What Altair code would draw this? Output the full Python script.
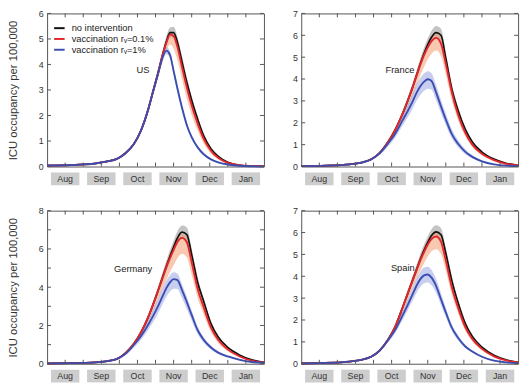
import altair as alt
import pandas as pd

# Days counted from 1 August; curves sampled on this grid
DAYS = [0, 20, 40, 50, 58, 65, 72, 78, 84, 88, 92, 96, 99, 102, 105, 108,
        112, 116, 120, 125, 130, 136, 142, 150, 160, 170, 180]

SERIES = ["no intervention", "vaccination rᵥ=0.1%", "vaccination rᵥ=1%"]
LINE_COLORS = ["#111111", "#e3262b", "#3b4db0"]
BAND_COLORS = ["#9c9c9c", "#f29a70", "#8f9de2"]
BAND_OPACITY = [0.6, 0.55, 0.5]

MONTHS = ["Aug", "Sep", "Oct", "Nov", "Dec", "Jan"]
MONTH_MID = [15, 45, 75, 105, 135, 165]
X_TICKS = [15, 30, 45, 60, 75, 90, 105, 120, 135, 150, 165]

# ---- US ----
US_NONE = [0.04, 0.06, 0.12, 0.2, 0.3, 0.52, 0.88, 1.42, 2.25, 2.95, 3.65, 4.4, 4.9, 5.25, 5.25, 4.9,
           4.1, 3.3, 2.6, 1.85, 1.2, 0.7, 0.4, 0.17, 0.05, 0.02, 0.01]
US_NONE_HI = [0.04, 0.06, 0.13, 0.21, 0.32, 0.55, 0.93, 1.5, 2.36, 3.08, 3.8, 4.58, 5.1, 5.45, 5.48, 5.12,
              4.32, 3.48, 2.76, 1.97, 1.29, 0.76, 0.44, 0.19, 0.06, 0.02, 0.01]
US_NONE_LO = [0.04, 0.06, 0.11, 0.19, 0.28, 0.49, 0.83, 1.35, 2.14, 2.82, 3.5, 4.22, 4.7, 5.05, 5.04, 4.68,
              3.9, 3.12, 2.45, 1.74, 1.12, 0.65, 0.37, 0.15, 0.04, 0.02, 0.01]
US_LOW = [0.04, 0.06, 0.12, 0.2, 0.3, 0.52, 0.88, 1.42, 2.25, 2.95, 3.65, 4.4, 4.85, 5.17, 5.12, 4.72,
          3.9, 3.1, 2.4, 1.68, 1.08, 0.62, 0.34, 0.14, 0.05, 0.02, 0.01]
US_LOW_HI = [0.04, 0.06, 0.12, 0.2, 0.31, 0.54, 0.9, 1.46, 2.3, 3.02, 3.72, 4.48, 4.95, 5.25, 5.2, 4.82,
             4.0, 3.2, 2.48, 1.74, 1.13, 0.65, 0.36, 0.15, 0.05, 0.02, 0.01]
US_LOW_LO = [0.04, 0.06, 0.11, 0.19, 0.28, 0.5, 0.84, 1.36, 2.15, 2.8, 3.45, 4.12, 4.55, 4.78, 4.62, 4.2,
             3.4, 2.65, 2.02, 1.4, 0.9, 0.5, 0.28, 0.12, 0.04, 0.02, 0.01]
US_HIGH = [0.04, 0.06, 0.12, 0.2, 0.3, 0.52, 0.88, 1.42, 2.25, 2.95, 3.62, 4.3, 4.54, 4.38, 3.75, 3.1,
           2.3, 1.62, 1.15, 0.75, 0.48, 0.28, 0.16, 0.08, 0.03, 0.01, 0.0]
US_HIGH_HI = [0.04, 0.06, 0.13, 0.21, 0.32, 0.54, 0.92, 1.48, 2.33, 3.06, 3.75, 4.45, 4.68, 4.52, 3.9, 3.24,
              2.42, 1.72, 1.23, 0.81, 0.53, 0.31, 0.18, 0.09, 0.03, 0.01, 0.0]
US_HIGH_LO = [0.04, 0.06, 0.11, 0.19, 0.28, 0.5, 0.84, 1.36, 2.17, 2.84, 3.49, 4.15, 4.4, 4.24, 3.6, 2.96,
              2.18, 1.52, 1.07, 0.69, 0.43, 0.25, 0.14, 0.07, 0.03, 0.01, 0.0]

# ---- France ----
FR_NONE = [0.02, 0.04, 0.1, 0.18, 0.33, 0.62, 1.12, 1.68, 2.4, 2.95, 3.55, 4.22, 4.72, 5.18, 5.58, 5.9,
           6.12, 6.0, 4.95, 3.55, 2.6, 1.72, 1.12, 0.66, 0.34, 0.15, 0.06]
FR_NONE_HI = [0.02, 0.04, 0.11, 0.19, 0.35, 0.66, 1.18, 1.77, 2.52, 3.1, 3.73, 4.43, 4.96, 5.44, 5.86, 6.2,
              6.43, 6.3, 5.2, 3.75, 2.75, 1.82, 1.19, 0.7, 0.36, 0.16, 0.06]
FR_NONE_LO = [0.02, 0.04, 0.1, 0.17, 0.32, 0.6, 1.08, 1.61, 2.3, 2.83, 3.41, 4.05, 4.53, 4.97, 5.36, 5.66,
              5.88, 5.76, 4.75, 3.4, 2.49, 1.65, 1.07, 0.63, 0.33, 0.14, 0.06]
FR_LOW = [0.02, 0.04, 0.1, 0.18, 0.33, 0.62, 1.12, 1.68, 2.4, 2.95, 3.55, 4.2, 4.68, 5.1, 5.45, 5.72,
          5.88, 5.62, 4.7, 3.4, 2.4, 1.56, 1.0, 0.58, 0.29, 0.12, 0.05]
FR_LOW_HI = [0.02, 0.04, 0.11, 0.19, 0.35, 0.66, 1.18, 1.76, 2.52, 3.1, 3.72, 4.4, 4.9, 5.32, 5.68, 5.95,
             6.1, 5.85, 4.9, 3.55, 2.52, 1.64, 1.05, 0.61, 0.31, 0.13, 0.05]
FR_LOW_LO = [0.02, 0.04, 0.09, 0.16, 0.3, 0.56, 1.0, 1.5, 2.14, 2.62, 3.15, 3.74, 4.18, 4.56, 4.9, 5.15,
             5.3, 5.05, 4.2, 3.02, 2.14, 1.39, 0.89, 0.51, 0.25, 0.1, 0.04]
FR_HIGH = [0.02, 0.04, 0.1, 0.18, 0.32, 0.6, 1.05, 1.5, 2.1, 2.5, 2.92, 3.4, 3.68, 3.88, 3.99, 3.92,
           3.38, 2.75, 2.15, 1.48, 1.05, 0.68, 0.44, 0.24, 0.1, 0.04, 0.02]
FR_HIGH_HI = [0.02, 0.04, 0.11, 0.2, 0.36, 0.68, 1.18, 1.7, 2.36, 2.8, 3.27, 3.78, 4.06, 4.26, 4.36, 4.28,
              3.72, 3.05, 2.42, 1.7, 1.22, 0.8, 0.52, 0.29, 0.12, 0.05, 0.02]
FR_HIGH_LO = [0.02, 0.04, 0.09, 0.16, 0.28, 0.52, 0.92, 1.32, 1.86, 2.22, 2.6, 3.03, 3.28, 3.46, 3.56, 3.52,
              3.02, 2.44, 1.9, 1.28, 0.9, 0.57, 0.37, 0.2, 0.08, 0.03, 0.01]

# ---- Germany ----
DE_NONE = [0.02, 0.03, 0.07, 0.14, 0.25, 0.55, 1.05, 1.65, 2.45, 3.1, 3.8, 4.55, 5.1, 5.62, 6.1, 6.55,
           6.88, 6.75, 5.7, 4.25, 3.25, 2.1, 1.4, 0.85, 0.45, 0.2, 0.08]
DE_NONE_HI = [0.02, 0.03, 0.08, 0.15, 0.27, 0.58, 1.1, 1.74, 2.58, 3.27, 4.0, 4.8, 5.38, 5.93, 6.43, 6.9,
              7.22, 7.12, 6.02, 4.5, 3.43, 2.22, 1.48, 0.9, 0.48, 0.21, 0.08]
DE_NONE_LO = [0.02, 0.03, 0.07, 0.13, 0.24, 0.52, 1.0, 1.57, 2.33, 2.95, 3.6, 4.32, 4.85, 5.35, 5.8, 6.22,
              6.55, 6.4, 5.4, 4.02, 3.08, 1.99, 1.33, 0.8, 0.42, 0.19, 0.07]
DE_LOW = [0.02, 0.03, 0.07, 0.14, 0.25, 0.55, 1.05, 1.65, 2.45, 3.1, 3.8, 4.52, 5.05, 5.52, 5.95, 6.35,
          6.58, 6.35, 5.3, 3.9, 2.95, 1.9, 1.25, 0.75, 0.38, 0.16, 0.07]
DE_LOW_HI = [0.02, 0.03, 0.08, 0.15, 0.27, 0.58, 1.1, 1.73, 2.57, 3.25, 3.98, 4.74, 5.28, 5.76, 6.2, 6.58,
             6.8, 6.58, 5.52, 4.08, 3.08, 1.99, 1.31, 0.79, 0.4, 0.17, 0.07]
DE_LOW_LO = [0.02, 0.03, 0.06, 0.12, 0.22, 0.48, 0.92, 1.45, 2.15, 2.72, 3.32, 3.95, 4.4, 4.8, 5.15, 5.5,
             5.75, 5.55, 4.65, 3.42, 2.58, 1.66, 1.09, 0.65, 0.33, 0.14, 0.06]
DE_HIGH = [0.02, 0.03, 0.07, 0.14, 0.25, 0.52, 0.98, 1.45, 2.05, 2.5, 3.0, 3.55, 3.95, 4.25, 4.42, 4.38,
           3.85, 3.22, 2.55, 1.75, 1.25, 0.85, 0.58, 0.38, 0.2, 0.09, 0.04]
DE_HIGH_HI = [0.02, 0.03, 0.08, 0.16, 0.29, 0.6, 1.12, 1.65, 2.32, 2.82, 3.37, 3.96, 4.36, 4.63, 4.78, 4.72,
              4.16, 3.5, 2.79, 1.93, 1.39, 0.95, 0.65, 0.43, 0.23, 0.1, 0.05]
DE_HIGH_LO = [0.02, 0.03, 0.06, 0.12, 0.21, 0.44, 0.84, 1.25, 1.78, 2.18, 2.63, 3.14, 3.5, 3.77, 3.92, 3.9,
              3.42, 2.86, 2.26, 1.55, 1.1, 0.75, 0.51, 0.33, 0.17, 0.08, 0.03]

# ---- Spain ----
ES_NONE = [0.02, 0.04, 0.1, 0.18, 0.32, 0.6, 1.1, 1.7, 2.55, 3.15, 3.75, 4.35, 4.8, 5.2, 5.55, 5.85,
           6.03, 5.9, 5.05, 3.8, 2.82, 1.86, 1.25, 0.76, 0.39, 0.18, 0.07]
ES_NONE_HI = [0.02, 0.04, 0.11, 0.19, 0.34, 0.63, 1.16, 1.79, 2.68, 3.3, 3.93, 4.56, 5.04, 5.46, 5.83, 6.14,
              6.33, 6.2, 5.3, 3.99, 2.97, 1.96, 1.32, 0.8, 0.41, 0.19, 0.07]
ES_NONE_LO = [0.02, 0.04, 0.1, 0.17, 0.31, 0.58, 1.06, 1.63, 2.45, 3.02, 3.6, 4.18, 4.6, 4.99, 5.33, 5.62,
              5.79, 5.66, 4.85, 3.65, 2.7, 1.78, 1.2, 0.73, 0.37, 0.17, 0.07]
ES_LOW = [0.02, 0.04, 0.1, 0.18, 0.32, 0.6, 1.1, 1.7, 2.55, 3.15, 3.75, 4.33, 4.75, 5.12, 5.45, 5.7,
          5.82, 5.58, 4.72, 3.5, 2.6, 1.7, 1.13, 0.68, 0.34, 0.15, 0.06]
ES_LOW_HI = [0.02, 0.04, 0.11, 0.19, 0.34, 0.63, 1.15, 1.78, 2.67, 3.3, 3.92, 4.52, 4.96, 5.34, 5.68, 5.93,
             6.05, 5.8, 4.9, 3.64, 2.71, 1.77, 1.18, 0.71, 0.35, 0.16, 0.06]
ES_LOW_LO = [0.02, 0.04, 0.09, 0.16, 0.29, 0.54, 0.99, 1.53, 2.3, 2.83, 3.38, 3.9, 4.28, 4.6, 4.9, 5.13,
             5.24, 5.02, 4.25, 3.15, 2.34, 1.53, 1.02, 0.61, 0.31, 0.14, 0.05]
ES_HIGH = [0.02, 0.04, 0.1, 0.18, 0.32, 0.6, 1.08, 1.55, 2.2, 2.65, 3.12, 3.6, 3.88, 4.04, 4.08, 3.95,
           3.55, 2.95, 2.35, 1.65, 1.2, 0.8, 0.56, 0.32, 0.14, 0.06, 0.02]
ES_HIGH_HI = [0.02, 0.04, 0.11, 0.2, 0.35, 0.66, 1.18, 1.7, 2.4, 2.89, 3.4, 3.92, 4.22, 4.4, 4.44, 4.3,
              3.87, 3.22, 2.56, 1.8, 1.31, 0.87, 0.61, 0.35, 0.15, 0.07, 0.02]
ES_HIGH_LO = [0.02, 0.04, 0.09, 0.16, 0.29, 0.54, 0.98, 1.4, 1.99, 2.4, 2.83, 3.27, 3.53, 3.68, 3.72, 3.6,
              3.23, 2.68, 2.14, 1.5, 1.09, 0.73, 0.51, 0.29, 0.13, 0.05, 0.02]

FONT = "Liberation Sans"
FRAME = "#555555"
W, H = 221, 156


def panel(country, curves, ymax, label_ticks, label_day, label_val, with_title, with_legend):
    rows = []
    for name, (mean, lo, hi) in zip(SERIES, curves):
        for d, m, l, h in zip(DAYS, mean, lo, hi):
            rows.append({"day": d, "series": name, "value": m, "lo": l, "hi": h})
    df = pd.DataFrame(rows)

    xscale = alt.Scale(domain=[0, 180], nice=False, zero=False)
    yscale = alt.Scale(domain=[0, ymax], nice=False, zero=True)
    axis_kw = dict(values=label_ticks, ticks=False, tickSize=0, domain=False, grid=False,
                   labelFontSize=9, labelColor="#333333", labelPadding=4, labelFont=FONT)
    if with_title:
        axis_kw.update(title="ICU occupancy per 100,000", titleFontSize=11.5,
                       titleFont=FONT, titleFontWeight="normal", titleColor="#333333",
                       titlePadding=20)
    else:
        axis_kw.update(title=None)
    yaxis = alt.Axis(**axis_kw)
    x = alt.X("day:Q", scale=xscale, axis=None)

    def yenc(field):
        return alt.Y(field, scale=yscale, axis=yaxis)

    base = alt.Chart(df)
    layers = []
    for name, col, op in zip(SERIES, BAND_COLORS, BAND_OPACITY):
        layers.append(
            base.transform_filter(alt.datum.series == name)
            .mark_area(interpolate="monotone", color=col, opacity=op)
            .encode(x=x, y=yenc("lo:Q"), y2="hi:Q")
        )

    legend = alt.Legend(orient="none", legendX=6, legendY=8.5, title=None, symbolType="stroke",
                        symbolStrokeWidth=2, symbolSize=115, labelFontSize=9.5, labelFont=FONT,
                        labelColor="#222222", rowPadding=0, labelOffset=6, padding=0) \
        if with_legend else None
    color = alt.Color("series:N", scale=alt.Scale(domain=SERIES, range=LINE_COLORS),
                      legend=legend)
    for name, sw in zip(SERIES, [1.7, 1.9, 1.9]):
        layers.append(
            base.transform_filter(alt.datum.series == name)
            .mark_line(interpolate="monotone", strokeWidth=sw)
            .encode(x=x, y=yenc("value:Q"), color=color)
        )

    # inward ticks on all four sides of the frame
    xt = pd.DataFrame({"day": X_TICKS})
    yt = pd.DataFrame({"v": list(range(0, ymax + 1))})
    tick = dict(color=FRAME, strokeWidth=1)
    layers.append(alt.Chart(xt).mark_rule(**tick).encode(x=x, y=alt.value(0), y2=alt.value(4)))
    layers.append(alt.Chart(xt).mark_rule(**tick).encode(x=x, y=alt.value(H), y2=alt.value(H - 4)))
    layers.append(alt.Chart(yt).mark_rule(**tick).encode(
        y=yenc("v:Q"), x=alt.value(0), x2=alt.value(4)))
    layers.append(alt.Chart(yt).mark_rule(**tick).encode(
        y=yenc("v:Q"), x=alt.value(W - 4), x2=alt.value(W)))

    # grey month boxes under the frame
    md = pd.DataFrame({"month": MONTHS, "mid": MONTH_MID,
                       "start": [m - 11.8 for m in MONTH_MID], "end": [m + 11.8 for m in MONTH_MID]})
    layers.append(alt.Chart(md).mark_rect(color="#cdcdcd").encode(
        x=alt.X("start:Q", scale=xscale, axis=None), x2="end:Q",
        y=alt.value(H + 6), y2=alt.value(H + 19)))
    layers.append(alt.Chart(md).mark_text(fontSize=9, font=FONT, color="#333333",
                                          baseline="middle").encode(
        x=alt.X("mid:Q", scale=xscale, axis=None), y=alt.value(H + 12.5), text="month:N"))

    lab = pd.DataFrame({"day": [label_day], "v": [label_val], "t": [country]})
    layers.append(alt.Chart(lab).mark_text(fontSize=9.5, font=FONT, color="#222222",
                                           baseline="middle").encode(
        x=x, y=yenc("v:Q"), text="t:N"))

    return alt.layer(*layers).properties(width=W, height=H)


us = panel("US", [(US_NONE, US_NONE_LO, US_NONE_HI), (US_LOW, US_LOW_LO, US_LOW_HI),
                  (US_HIGH, US_HIGH_LO, US_HIGH_HI)], 6, list(range(0, 7)), 79.5, 3.8, True, True)
fr = panel("France", [(FR_NONE, FR_NONE_LO, FR_NONE_HI), (FR_LOW, FR_LOW_LO, FR_LOW_HI),
                      (FR_HIGH, FR_HIGH_LO, FR_HIGH_HI)], 7, list(range(0, 8)), 82, 4.41, False, False)
de = panel("Germany", [(DE_NONE, DE_NONE_LO, DE_NONE_HI), (DE_LOW, DE_LOW_LO, DE_LOW_HI),
                       (DE_HIGH, DE_HIGH_LO, DE_HIGH_HI)], 8, [0, 2, 4, 6, 8], 71.4, 4.97, True, False)
es = panel("Spain", [(ES_NONE, ES_NONE_LO, ES_NONE_HI), (ES_LOW, ES_LOW_LO, ES_LOW_HI),
                     (ES_HIGH, ES_HIGH_LO, ES_HIGH_HI)], 7, list(range(0, 8)), 84.3, 4.37, False, False)

top = alt.hconcat(us, fr, spacing=23).resolve_scale(y="independent", color="independent")
bottom = alt.hconcat(de, es, spacing=23).resolve_scale(y="independent", color="independent")
chart = (
    alt.vconcat(top, bottom, spacing=20)
    .resolve_scale(y="independent", color="independent")
    .properties(padding={"left": 7, "top": 5, "right": 0, "bottom": 0}, background="white")
    .configure_view(stroke=FRAME, strokeWidth=1)
)

chart.save("out.html", embed_options={"renderer": "svg", "actions": False})
